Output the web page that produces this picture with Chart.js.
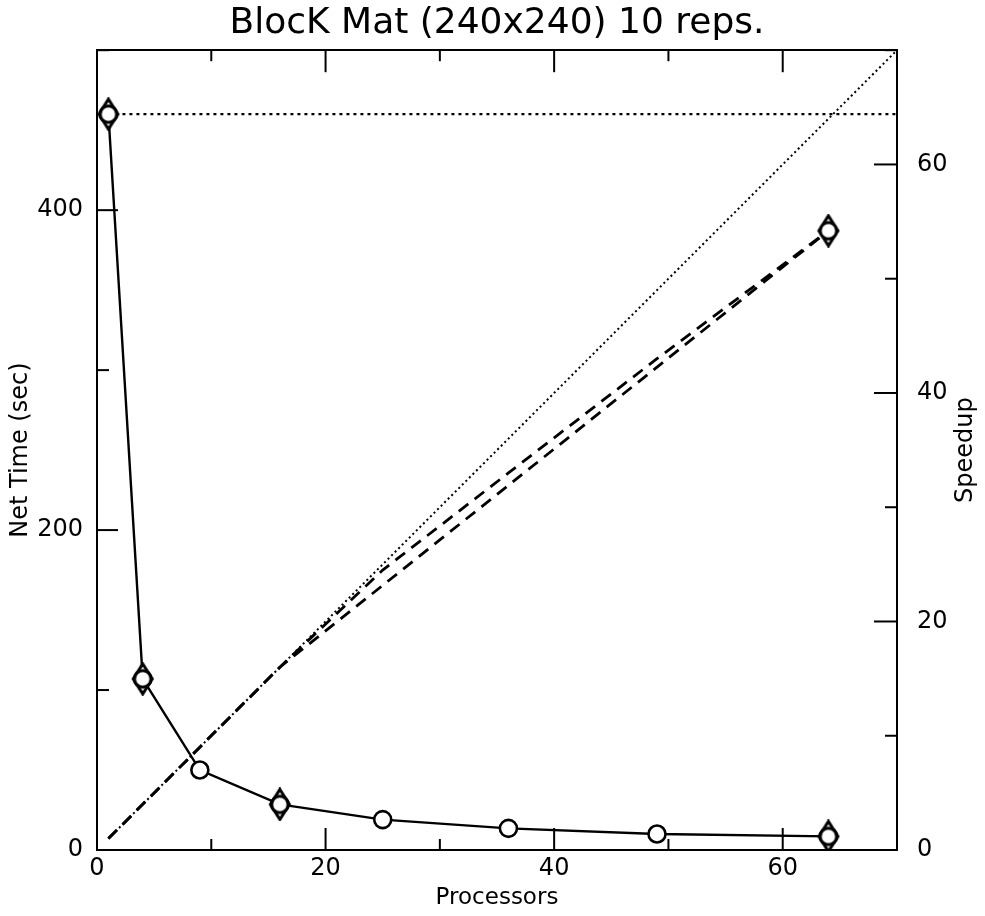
<!DOCTYPE html>
<html>
<head>
<meta charset="utf-8">
<script src="https://cdn.jsdelivr.net/npm/chart.js@4.4.0/dist/chart.umd.min.js"></script>
<style>
  body { margin: 0; background: #fff; }
</style>
</head>
<body>
<canvas id="blockChart" width="985" height="916"></canvas>
<script>
// processors used in the runs (circles)
const procs = [1, 4, 9, 16, 25, 36, 49, 64];
const netTime = [460, 107, 50, 28.5, 19, 13.5, 10, 8.5];
// second run (diamond markers)
const procsB = [1, 4, 16, 64];
const netTimeB = [460, 107, 28.5, 8.5];
// speedup curves, right axis
const speedupA = [1, 4, 9, 16, 24.5, 33, 43, 54.2];
const speedupB = [1, 4, 16, 54.2];
// ideal speedup + single processor time reference
const idealProcs = [1, 70];
const idealSpeedup = [1, 70];
const serialProcs = [1, 70];
const serialTime = [460, 460];
// ticks
const xMajor = [0, 20, 40, 60];
const xMinor = [10, 30, 50, 70];
const timeMajor = [0, 200, 400];
const timeMinor = [100, 300, 500];
const spMajor = [0, 20, 40, 60];
const spMinor = [10, 30, 50, 70];

const FONT = "'DejaVu Sans', sans-serif";

function pts(xs, ys) {
    return xs.map((x, i) => ({x: x, y: ys[i]}));
}

// circle with a diamond round it
function diamondMark() {
    const c = document.createElement('canvas');
    c.width = 26; c.height = 34;
    const g = c.getContext('2d');
    g.lineWidth = 3;
    g.strokeStyle = '#000';
    g.fillStyle = '#fff';
    g.beginPath();
    g.moveTo(13, 2); g.lineTo(22.5, 17); g.lineTo(13, 32); g.lineTo(3.5, 17);
    g.closePath();
    g.fill(); g.stroke();
    g.beginPath();
    g.arc(13, 17, 8.2, 0, Math.PI * 2);
    g.fill(); g.stroke();
    return c;
}
const diamond = diamondMark();

// inward tick marks + speedup title
const inTicks = {
    id: 'inTicks',
    afterDatasetsDraw(chart) {
        const ctx = chart.ctx, a = chart.chartArea, s = chart.scales;
        ctx.save();
        ctx.strokeStyle = '#000';
        ctx.lineWidth = 2;
        function seg(x1, y1, x2, y2) {
            ctx.beginPath(); ctx.moveTo(x1, y1); ctx.lineTo(x2, y2); ctx.stroke();
        }
        function xt(vals, len) {
            vals.forEach(v => {
                const p = s.x.getPixelForValue(v);
                seg(p, a.bottom, p, a.bottom - len);
                seg(p, a.top, p, a.top + len);
            });
        }
        xt(xMajor, 22);
        xt(xMinor, 11);
        timeMajor.forEach(v => { const p = s.y.getPixelForValue(v); seg(a.left, p, a.left + 21, p); });
        timeMinor.forEach(v => { const p = s.y.getPixelForValue(v); seg(a.left, p, a.left + 12, p); });
        spMajor.forEach(v => { const p = s.y2.getPixelForValue(v); seg(a.right, p, a.right - 23, p); });
        spMinor.forEach(v => { const p = s.y2.getPixelForValue(v); seg(a.right, p, a.right - 12, p); });

        ctx.translate(966, (a.top + a.bottom) / 2);
        ctx.rotate(-Math.PI / 2);
        ctx.fillStyle = '#000';
        ctx.font = "24px " + FONT;
        ctx.textAlign = 'center';
        ctx.textBaseline = 'middle';
        ctx.fillText('Speedup', 0, 0);
        ctx.restore();
    }
};

const ctx = document.getElementById('blockChart');

new Chart(ctx, {
    type: 'scatter',
    data: {
        datasets: [{
            data: pts(procsB, netTimeB),
            showLine: false,
            pointStyle: diamond,
            pointRadius: 10,
            yAxisID: 'y'
        }, {
            data: pts(procs, netTime),
            showLine: true,
            borderColor: '#000',
            borderWidth: 2.4,
            pointStyle: 'circle',
            pointRadius: 8.5,
            pointBorderWidth: 2.6,
            pointBorderColor: '#000',
            pointBackgroundColor: '#fff',
            yAxisID: 'y'
        }, {
            data: pts(procs, speedupA),
            showLine: true,
            borderColor: '#000',
            borderWidth: 2.8,
            borderDash: [12, 8],
            pointStyle: diamond,
            pointRadius: c => c.dataIndex === procs.length - 1 ? 10 : 0,
            yAxisID: 'y2'
        }, {
            data: pts(procsB, speedupB),
            showLine: true,
            borderColor: '#000',
            borderWidth: 2.8,
            borderDash: [12, 8],
            pointRadius: 0,
            yAxisID: 'y2'
        }, {
            data: pts(idealProcs, idealSpeedup),
            showLine: true,
            borderColor: '#000',
            borderWidth: 2,
            borderDash: [2, 3],
            pointRadius: 0,
            yAxisID: 'y2'
        }, {
            data: pts(serialProcs, serialTime),
            showLine: true,
            borderColor: '#000',
            borderWidth: 2.2,
            borderDash: [3, 4],
            pointRadius: 0,
            yAxisID: 'y'
        }]
    },
    options: {
        responsive: false,
        animation: false,
        layout: { padding: 0 },
        scales: {
            x: {
                type: 'linear',
                position: 'bottom',
                min: 0, max: 70,
                afterBuildTicks: sc => { sc.ticks = xMajor.map(v => ({value: v})); },
                afterFit: sc => { sc.height = 66; },
                grid: { drawOnChartArea: false, drawTicks: false },
                border: { color: '#000', width: 2 },
                ticks: { color: '#000', padding: 4, maxRotation: 0, font: { family: FONT, size: 24 } },
                title: {
                    display: true, text: 'Processors', color: '#000',
                    font: { family: FONT, size: 23 }, padding: { top: 0, bottom: 4 }
                }
            },
            x2: {
                type: 'linear',
                position: 'top',
                min: 0, max: 70,
                afterFit: sc => { sc.height = 0; },
                grid: { drawOnChartArea: false, drawTicks: false },
                border: { color: '#000', width: 2 },
                ticks: { display: false }
            },
            y: {
                type: 'linear',
                position: 'left',
                min: 0, max: 500,
                afterBuildTicks: sc => { sc.ticks = timeMajor.map(v => ({value: v})); },
                afterFit: sc => { sc.width = 97; },
                grid: { drawOnChartArea: false, drawTicks: false },
                border: { color: '#000', width: 2 },
                ticks: { color: '#000', padding: 14, font: { family: FONT, size: 24 } },
                title: {
                    display: true, text: 'Net Time (sec)', color: '#000',
                    font: { family: FONT, size: 24 }, padding: { top: 6, bottom: 0 }
                }
            },
            y2: {
                type: 'linear',
                position: 'right',
                min: 0, max: 70,
                afterBuildTicks: sc => { sc.ticks = spMajor.map(v => ({value: v})); },
                afterFit: sc => { sc.width = 88; },
                grid: { drawOnChartArea: false, drawTicks: false },
                border: { color: '#000', width: 2 },
                ticks: { color: '#000', padding: 20, font: { family: FONT, size: 24 } }
            }
        },
        plugins: {
            legend: { display: false },
            tooltip: { enabled: false },
            title: {
                display: true,
                fullSize: false,
                text: 'BlocK Mat (240x240) 10 reps.',
                color: '#000',
                font: { family: FONT, size: 36, weight: 'normal' },
                padding: { top: 2, bottom: 5 }
            }
        }
    },
    plugins: [inTicks]
});
</script>
</body>
</html>
